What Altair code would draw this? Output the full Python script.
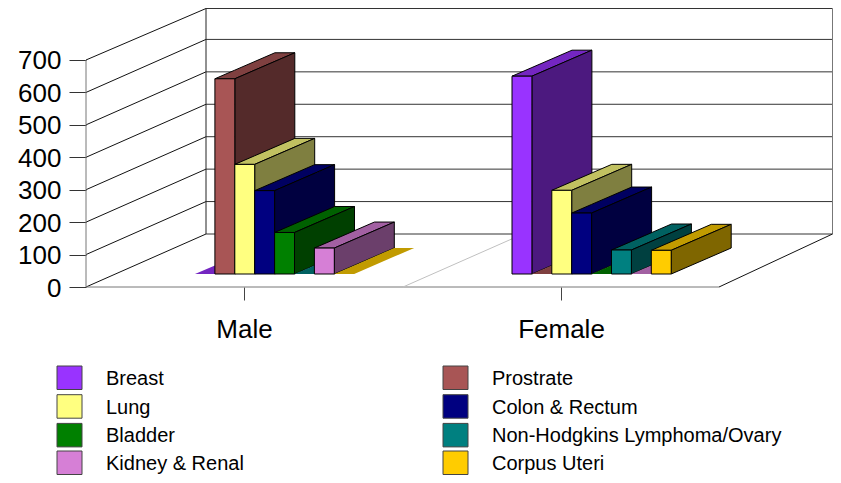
import altair as alt
import pandas as pd

# ---- data ----
series = ["Breast", "Prostrate", "Lung", "Colon & Rectum", "Bladder",
          "Non-Hodgkins Lymphoma/Ovary", "Kidney & Renal", "Corpus Uteri"]
male = [0, 602, 338, 257, 128, 0, 80, 0]
female = [610, 0, 258, 188, 0, 74, 0, 73]
base_colors = ["#9933FF", "#A85555", "#FFFF80", "#000080", "#008000", "#008080", "#D67FD6", "#FFCC00"]
y_ticks = [0, 100, 200, 300, 400, 500, 600, 700]
cat_ticks = [244, 561]
legend_left = ["Breast", "Lung", "Bladder", "Kidney & Renal"]
legend_right = ["Prostrate", "Colon & Rectum", "Non-Hodgkins Lymphoma/Ovary", "Corpus Uteri"]

FONT = "Liberation Sans"
PX = 0.3243            # pixels per value unit
def v(py):             # pixel row -> value unit
    return (287 - py) / PX
def shade(c, f):
    r, g, b = int(c[1:3], 16), int(c[3:5], 16), int(c[5:7], 16)
    return "#%02x%02x%02x" % (int(r * f), int(g * f), int(b * f))

x_scale = alt.Scale(domain=[8, 833], nice=False, zero=False)
y_scale = alt.Scale(domain=[v(475), v(8)], nice=False, zero=False)
x_axis = alt.Axis(
    values=cat_ticks, orient="bottom", offset=-188, domain=False, grid=False,
    tickSize=13, tickColor="#444444", labelFontSize=26, labelFont=FONT, labelColor="#000000",
    labelPadding=16, labelExpr="datum.value < 400 ? 'Male' : 'Female'", title=None)
y_axis = alt.Axis(
    values=y_ticks, orient="left", offset=-78, domain=False, grid=False,
    tickSize=17, tickColor="#333333", labelFontSize=26, labelFont=FONT, labelColor="#000000",
    labelPadding=8, labelOffset=1, format="d", title=None)

# ---- walls ----
WALL_DX, WALL_DV = 120, 53 / PX
TOP = v(8.5)
RIGHT = 832.5
segs = []
def seg(x, y, x2, y2, c):
    segs.append(dict(x=x, y=y, x2=x2, y2=y2, c=c))
for t in y_ticks:
    back = min(t + WALL_DV, TOP)
    seg(86, t, 206, back, "#111111")
    seg(206, back, RIGHT, back, "#333333")
seg(206, WALL_DV, 206, TOP, "#222222")
seg(RIGHT, WALL_DV, RIGHT, TOP, "#777777")
seg(86, 0, 86, 700, "#777777")
seg(86, 0, 719, 0, "#777777")
seg(719, 0, RIGHT, WALL_DV, "#111111")
seg(403, 0, 523, WALL_DV, "#c0c0c0")
walls = alt.Chart(pd.DataFrame(segs)).mark_rule(strokeWidth=1).encode(
    x=alt.X("x:Q", scale=x_scale, axis=x_axis),
    x2="x2:Q",
    y=alt.Y("y:Q", scale=y_scale, axis=y_axis),
    y2="y2:Q",
    color=alt.Color("c:N", scale=None),
)

# ---- bars ----
W, DX = 19.9, 60
DV = 26 / PX
BASE = 13 / PX
rows = []
def add(face, pts, fill, stroke):
    for (x, y, y2) in pts:
        rows.append(dict(face=face, x=x, y=y, y2=y2, fill=fill, stroke=stroke))
n = 0
for start, vals in [(195, male), (512, female)]:
    for i, val in enumerate(vals):
        x0 = start + i * W
        t = BASE + val
        s = DV / DX
        c = base_colors[i]
        stroke = "#000000" if val > 0 else "transparent"
        add(f"f{n:03d}a", [(x0, t, t), (x0 + W, t, t + s * W),
                           (x0 + DX, t + s * (DX - W), t + DV), (x0 + DX + W, t + DV, t + DV)],
            shade(c, 0.76), stroke)
        if val > 0:
            add(f"f{n:03d}b", [(x0 + W, BASE, t), (x0 + W + DX, BASE + DV, t + DV)], shade(c, 0.5), stroke)
            add(f"f{n:03d}c", [(x0, BASE, t), (x0 + W, BASE, t)], c, stroke)
        n += 1
bars = alt.Chart(pd.DataFrame(rows)).mark_area(strokeWidth=1).encode(
    x=alt.X("x:Q", scale=x_scale, axis=x_axis),
    y=alt.Y("y:Q", scale=y_scale, axis=y_axis, stack=None),
    y2="y2:Q",
    detail="face:N",
    fill=alt.Fill("fill:N", scale=None),
    stroke=alt.Stroke("stroke:N", scale=None),
)

# ---- legend ----
row_top = [366, 394.7, 423.4, 451]
leg = []
for names, sx, tx in [(legend_left, 57, 106), (legend_right, 443, 492)]:
    for name, top in zip(names, row_top):
        leg.append(dict(name=name, x=sx, x2=sx + 25, y=v(top), y2=v(top + 23.5), tx=tx, ty=v(top + 13),
                        fill=base_colors[series.index(name)]))
leg_df = pd.DataFrame(leg)
swatches = alt.Chart(leg_df).mark_rect(stroke="#444444", strokeWidth=1).encode(
    x=alt.X("x:Q", scale=x_scale, axis=x_axis), x2="x2:Q",
    y=alt.Y("y:Q", scale=y_scale, axis=y_axis), y2="y2:Q",
    fill=alt.Fill("fill:N", scale=None),
)
labels = alt.Chart(leg_df).mark_text(align="left", baseline="middle", font=FONT, fontSize=20, color="#000000").encode(
    x=alt.X("tx:Q", scale=x_scale, axis=x_axis),
    y=alt.Y("ty:Q", scale=y_scale, axis=y_axis),
    text="name:N",
)

chart = alt.layer(walls, bars, swatches, labels).properties(
    width=825, height=467, padding=0, autosize=alt.AutoSizeParams(type="none"),
    background="#ffffff",
).configure_view(strokeWidth=0)

chart.save("out.html", embed_options={"renderer": "svg", "actions": False})
